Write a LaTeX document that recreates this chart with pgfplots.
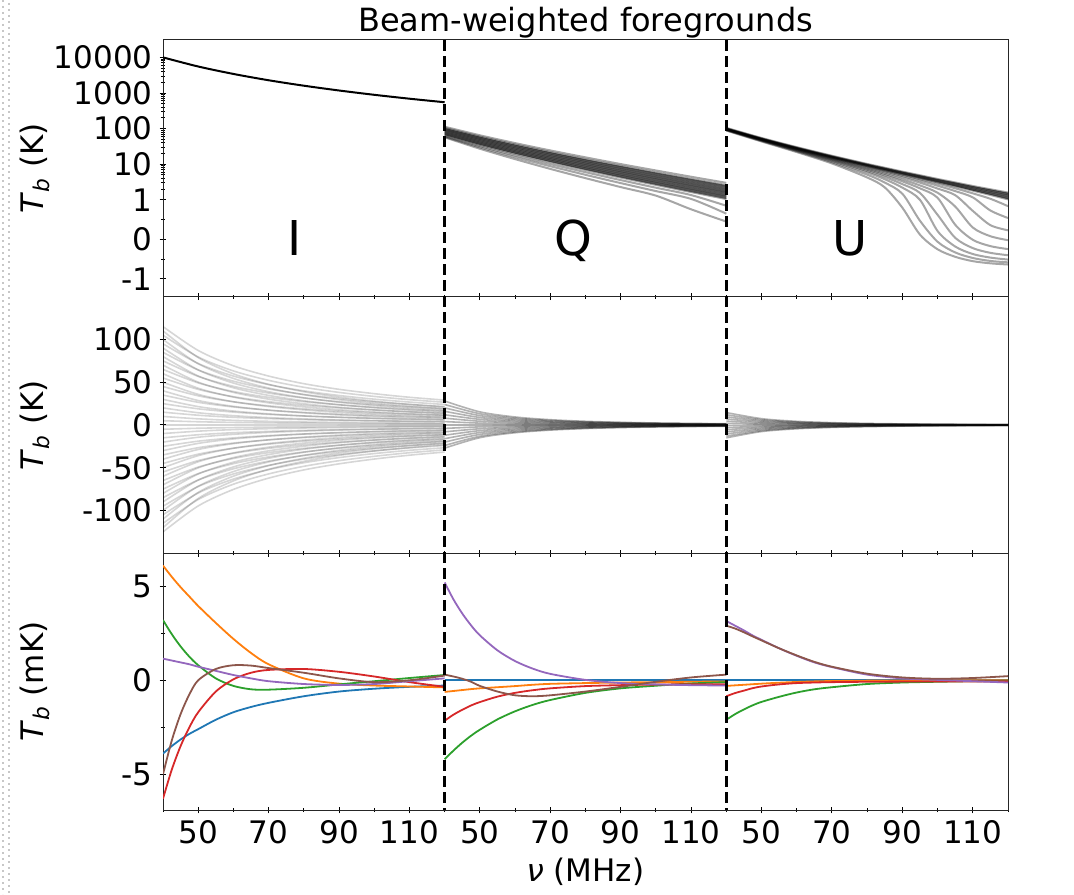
\documentclass[border=0pt]{standalone}
\usepackage{fontspec}
\setmainfont{DejaVu Sans}
\newfontfamily\bigfont{DejaVu Sans}
\usepackage{pgfplots}
\usepackage{pgfplotstable}
\pgfplotsset{compat=1.18}
\usepgfplotslibrary{fillbetween}
\usetikzlibrary{calc}

\definecolor{tabblue}{HTML}{1F77B4}
\definecolor{taborange}{HTML}{FF7F0E}
\definecolor{tabgreen}{HTML}{2CA02C}
\definecolor{tabred}{HTML}{D62728}
\definecolor{tabpurple}{HTML}{9467BD}
\definecolor{tabbrown}{HTML}{8C564B}

% ---------- top panel: I ----------
\pgfplotstableread{
nu I
40 10000
50 5550
60 3430
70 2280
80 1604
90 1176
100 890
110 692
120 550
}\tabTI
% ---------- top panel: Q ----------
\pgfplotstableread{
nu q1 q2 q3 q4 q5 q6 q7 q8 q9 q10 q11 q12
40 113 105 98 92 86 80 75 70 66 62 59 57
50 65.0 59.8 55.3 51.3 47.5 43.9 40.7 37.7 35.1 32.3 29.7 27.2
60 39.2 35.7 32.8 30.1 27.6 25.3 23.2 21.4 19.7 17.7 15.8 13.9
70 24.4 22.0 20.1 18.3 16.6 15.1 13.8 12.6 11.5 10.1 8.80 7.39
80 15.6 13.9 12.6 11.4 10.3 9.30 8.37 7.61 6.89 5.97 5.04 4.06
90 10.1 8.99 8.09 7.22 6.46 5.82 5.19 4.69 4.21 3.58 2.95 2.28
100 6.68 5.88 5.26 4.65 4.13 3.70 3.27 2.94 2.62 2.19 1.76 1.31
110 4.45 3.89 3.46 3.03 2.67 2.38 2.09 1.87 1.65 1.36 1.06 0.76
120 3.00 2.60 2.30 2.00 1.75 1.55 1.35 1.20 1.05 0.85 0.65 0.45
}\tabTQ
% ---------- top panel: U ----------
\pgfplotstableread{
nu u1 u2 u3 u4 u5 u6 u7 u8 u9 u10 u11 u12 u13 u14
40 105.0 102.0 100 98.0 96.0 98.0 97.0 96.0 95.0 94.0 93.0 92.0 90.0 88.0
50 54.7 53.1 52.0 50.9 49.8 50.6 50.0 49.3 48.5 47.8 47.0 46.2 44.9 43.5
60 30.2 29.2 28.6 27.9 27.3 27.6 27.1 26.5 25.9 25.3 24.7 24.0 23.0 21.9
70 17.3 16.7 16.3 15.8 15.4 15.5 15.0 14.5 14.0 13.5 12.9 12.2 11.4 10.5
80 10.2 9.85 9.55 9.24 8.97 8.85 8.45 8.00 7.47 7.00 6.44 5.86 5.09 4.24
85 7.97 7.64 7.38 7.11 6.88 6.71 6.33 5.89 5.37 4.91 4.37 3.79 3.05 2.23
90 6.21 5.94 5.70 5.47 5.27 5.06 4.69 4.26 3.75 3.30 2.76 2.20 1.48 0.80
95 4.90 4.66 4.45 4.24 4.06 3.82 3.46 3.04 2.54 2.10 1.56 1.00 0.47 0.12
100 3.86 3.65 3.46 3.27 3.11 2.85 2.49 2.07 1.58 1.14 0.62 0.21 -0.06 -0.25
105 3.08 2.89 2.71 2.53 2.39 2.11 1.76 1.35 0.83 0.37 0.04 -0.18 -0.33 -0.44
110 2.45 2.28 2.11 1.94 1.81 1.52 1.17 0.72 0.30 -0.01 -0.22 -0.37 -0.47 -0.55
115 1.98 1.82 1.66 1.50 1.37 1.07 0.73 0.36 0.08 -0.17 -0.34 -0.46 -0.545 -0.605
120 1.60 1.45 1.30 1.15 1.03 0.84 0.54 0.23 -0.02 -0.245 -0.40 -0.51 -0.58 -0.635
}\tabTU
% ---------- middle panel: I (two families) ----------
\pgfplotstableread{
nu m1 m2 m3 m4 m5 m6 m7 m8 m9 m10 m11 m12 m13 m14 m15 m16 m17 m18 m19 m20 m21 m22 m23 m24 m25
40 115 105 95 85 75 65 55 45 35 25 15 5 -5 -15 -25 -35 -45 -55 -65 -75 -85 -95 -105 -115 -125
50 87.1 79.5 71.9 64.3 56.8 49.2 41.6 34.1 26.5 18.9 11.4 3.8 -3.8 -11.4 -18.9 -26.5 -34.1 -41.6 -49.2 -56.8 -64.3 -71.9 -79.5 -87.1 -94.6
60 69.2 63.2 57.2 51.2 45.2 39.1 33.1 27.1 21.1 15.1 9.0 3.0 -3.0 -9.0 -15.1 -21.1 -27.1 -33.1 -39.1 -45.2 -51.2 -57.2 -63.2 -69.2 -75.3
70 57.2 52.2 47.2 42.2 37.3 32.3 27.3 22.4 17.4 12.4 7.5 2.5 -2.5 -7.5 -12.4 -17.4 -22.4 -27.3 -32.3 -37.3 -42.2 -47.2 -52.2 -57.2 -62.1
80 48.3 44.1 39.9 35.7 31.5 27.3 23.1 18.9 14.7 10.5 6.3 2.1 -2.1 -6.3 -10.5 -14.7 -18.9 -23.1 -27.3 -31.5 -35.7 -39.9 -44.1 -48.3 -52.5
90 41.7 38.1 34.5 30.9 27.2 23.6 20.0 16.3 12.7 9.1 5.4 1.8 -1.8 -5.4 -9.1 -12.7 -16.3 -20.0 -23.6 -27.2 -30.9 -34.5 -38.1 -41.7 -45.4
100 36.6 33.4 30.2 27.0 23.9 20.7 17.5 14.3 11.1 8.0 4.8 1.6 -1.6 -4.8 -8.0 -11.1 -14.3 -17.5 -20.7 -23.9 -27.0 -30.2 -33.4 -36.6 -39.8
110 32.4 29.6 26.8 24.0 21.2 18.3 15.5 12.7 9.9 7.1 4.2 1.4 -1.4 -4.2 -7.1 -9.9 -12.7 -15.5 -18.3 -21.2 -24.0 -26.8 -29.6 -32.4 -35.3
120 29.1 26.6 24.0 21.5 19.0 16.4 13.9 11.4 8.9 6.3 3.8 1.3 -1.3 -3.8 -6.3 -8.9 -11.4 -13.9 -16.4 -19.0 -21.5 -24.0 -26.6 -29.1 -31.6
}\tabMI
\pgfplotstableread{
nu n1 n2 n3 n4 n5 n6 n7 n8 n9 n10 n11 n12 n13 n14 n15 n16 n17 n18 n19 n20 n21 n22 n23 n24
40 110 100 90 80 70 60 50 40 30 20 10 0 -10 -20 -30 -40 -50 -60 -70 -80 -90 -100 -110 -120
50 78.8 71.6 64.4 57.3 50.1 43.0 35.8 28.6 21.5 14.3 7.2 0 -7.2 -14.3 -21.5 -28.6 -35.8 -43.0 -50.1 -57.3 -64.4 -71.6 -78.8 -85.9
60 59.8 54.4 49.0 43.5 38.1 32.6 27.2 21.8 16.3 10.9 5.4 0 -5.4 -10.9 -16.3 -21.8 -27.2 -32.6 -38.1 -43.5 -49.0 -54.4 -59.8 -65.3
70 47.5 43.2 38.9 34.6 30.2 25.9 21.6 17.3 13.0 8.6 4.3 0 -4.3 -8.6 -13.0 -17.3 -21.6 -25.9 -30.2 -34.6 -38.9 -43.2 -47.5 -51.8
80 38.9 35.4 31.9 28.3 24.8 21.2 17.7 14.2 10.6 7.1 3.5 0 -3.5 -7.1 -10.6 -14.2 -17.7 -21.2 -24.8 -28.3 -31.9 -35.4 -38.9 -42.5
90 32.6 29.6 26.6 23.7 20.7 17.8 14.8 11.8 8.9 5.9 3.0 0 -3.0 -5.9 -8.9 -11.8 -14.8 -17.8 -20.7 -23.7 -26.6 -29.6 -32.6 -35.5
100 27.8 25.3 22.8 20.2 17.7 15.2 12.7 10.1 7.6 5.1 2.5 0 -2.5 -5.1 -7.6 -10.1 -12.7 -15.2 -17.7 -20.2 -22.8 -25.3 -27.8 -30.4
110 24.1 21.9 19.7 17.5 15.3 13.1 11.0 8.8 6.6 4.4 2.2 0 -2.2 -4.4 -6.6 -8.8 -11.0 -13.1 -15.3 -17.5 -19.7 -21.9 -24.1 -26.3
120 21.1 19.2 17.3 15.4 13.4 11.5 9.6 7.7 5.8 3.8 1.9 0 -1.9 -3.8 -5.8 -7.7 -9.6 -11.5 -13.4 -15.4 -17.3 -19.2 -21.1 -23.0
}\tabMIb
% ---------- middle panel: Q ----------
\pgfplotstableread{
nu q1 q2 q3 q4 q5 q6 q7 q8 q9 q10 q11 q12 q13 q14 q15
40 28 24 20 16 12 8 4 0 -4 -8 -12 -16 -20 -24 -27
50 15.34 13.15 10.96 8.77 6.58 4.38 2.19 0 -2.19 -4.38 -6.58 -8.77 -10.96 -13.15 -14.80
60 9.38 8.04 6.70 5.36 4.02 2.68 1.34 0 -1.34 -2.68 -4.02 -5.36 -6.70 -8.04 -9.05
70 6.19 5.30 4.42 3.54 2.65 1.77 0.88 0 -0.88 -1.77 -2.65 -3.54 -4.42 -5.30 -5.97
80 4.31 3.70 3.08 2.46 1.85 1.23 0.62 0 -0.62 -1.23 -1.85 -2.46 -3.08 -3.70 -4.16
90 3.14 2.69 2.24 1.79 1.34 0.90 0.45 0 -0.45 -0.90 -1.34 -1.79 -2.24 -2.69 -3.02
100 2.36 2.02 1.69 1.35 1.01 0.67 0.34 0 -0.34 -0.67 -1.01 -1.35 -1.69 -2.02 -2.28
110 1.82 1.56 1.30 1.04 0.78 0.52 0.26 0 -0.26 -0.52 -0.78 -1.04 -1.30 -1.56 -1.76
120 1.44 1.24 1.03 0.82 0.62 0.41 0.21 0 -0.21 -0.41 -0.62 -0.82 -1.03 -1.24 -1.39
}\tabMQ
% ---------- middle panel: U ----------
\pgfplotstableread{
nu u1 u2 u3 u4 u5 u6 u7 u8 u9 u10 u11 u12 u13
40 14.5 12 9.5 7 4.5 2 -0.5 -3 -5.5 -8 -10.5 -13 -15
50 7.42 6.14 4.86 3.58 2.30 1.02 -0.26 -1.54 -2.82 -4.10 -5.38 -6.66 -7.68
60 4.29 3.55 2.81 2.07 1.33 0.59 -0.15 -0.89 -1.63 -2.37 -3.11 -3.85 -4.44
70 2.71 2.24 1.78 1.31 0.84 0.37 -0.09 -0.56 -1.03 -1.50 -1.96 -2.43 -2.81
80 1.81 1.50 1.19 0.88 0.56 0.25 -0.06 -0.38 -0.69 -1.00 -1.31 -1.63 -1.88
90 1.27 1.05 0.83 0.61 0.40 0.18 -0.04 -0.26 -0.48 -0.70 -0.92 -1.14 -1.32
100 0.93 0.77 0.61 0.45 0.29 0.13 -0.03 -0.19 -0.35 -0.51 -0.67 -0.83 -0.96
110 0.70 0.58 0.46 0.34 0.22 0.10 -0.02 -0.14 -0.26 -0.38 -0.50 -0.62 -0.72
120 0.54 0.44 0.35 0.26 0.17 0.07 -0.02 -0.11 -0.20 -0.30 -0.39 -0.48 -0.56
}\tabMU
% ---------- bottom panel ----------
\pgfplotstableread{
nu blue orange green red purple brown
40 -3.9 6.1 3.2 -6.3 1.15 -5.0
42.5 -3.5 5.5 2.45 -4.75 1.05 -3.2
45 -3.15 4.95 1.8 -3.5 0.95 -1.8
47.5 -2.85 4.45 1.25 -2.5 0.85 -0.75
50 -2.6 3.95 0.8 -1.7 0.72 0.0
55 -2.1 3.05 0.1 -0.6 0.5 0.6
60 -1.7 2.2 -0.3 0.05 0.28 0.8
65 -1.42 1.45 -0.48 0.4 0.1 0.78
70 -1.2 0.85 -0.5 0.55 -0.05 0.65
80 -0.85 0.1 -0.4 0.6 -0.2 0.4
90 -0.6 -0.18 -0.22 0.45 -0.25 0.1
100 -0.45 -0.28 -0.05 0.2 -0.2 -0.1
110 -0.35 -0.33 0.12 -0.1 -0.05 0.0
120 -0.28 -0.38 0.28 -0.35 0.1 0.25
}\tabBI
\pgfplotstableread{
nu blue orange green red purple brown
40 0.02 -0.62 -4.2 -2.15 5.2 0.3
42.5 0.02 -0.57 -3.74 -1.83 4.30 0.2
45 0.02 -0.52 -3.32 -1.57 3.55 0.08
47.5 0.02 -0.47 -2.95 -1.34 2.92 -0.08
50 0.02 -0.43 -2.63 -1.16 2.39 -0.3
55 0.02 -0.37 -2.08 -0.87 1.59 -0.6
60 0.02 -0.31 -1.65 -0.67 1.02 -0.8
65 0.02 -0.24 -1.31 -0.53 0.62 -0.85
70 0.02 -0.19 -1.05 -0.43 0.34 -0.8
80 0.02 -0.15 -0.67 -0.31 0.02 -0.6
90 0.02 -0.12 -0.43 -0.26 -0.15 -0.35
100 0.02 -0.10 -0.29 -0.23 -0.22 -0.08
110 0.02 -0.08 -0.17 -0.21 -0.26 0.15
120 0.02 -0.06 -0.10 -0.21 -0.28 0.3
}\tabBQ
\pgfplotstableread{
nu blue orange green red purple brown
40 0.02 -0.3 -2.1 -0.85 3.15 2.9
42.5 0.02 -0.27 -1.8 -0.68 2.9 2.75
45 0.02 -0.24 -1.55 -0.55 2.65 2.55
47.5 0.02 -0.21 -1.33 -0.42 2.38 2.33
50 0.02 -0.18 -1.15 -0.33 2.15 2.12
55 0.02 -0.13 -0.88 -0.22 1.7 1.7
60 0.02 -0.09 -0.65 -0.15 1.3 1.32
65 0.02 -0.06 -0.48 -0.12 0.95 0.98
70 0.02 -0.04 -0.37 -0.1 0.7 0.72
80 0.02 -0.02 -0.2 -0.08 0.3 0.35
90 0.02 -0.01 -0.12 -0.07 0.1 0.15
100 0.02 0 -0.08 -0.06 0.02 0.08
110 0.02 0 -0.05 -0.06 -0.05 0.12
120 0.02 0 -0.03 -0.06 -0.12 0.22
}\tabBU

\newcommand{\segplots}[2]{%
  \addplot[tabblue, line width=0.9pt, smooth] table[x expr=\thisrowno{0}+#2, y=blue] {#1};
  \addplot[taborange, line width=0.9pt, smooth] table[x expr=\thisrowno{0}+#2, y=orange] {#1};
  \addplot[tabgreen, line width=0.9pt, smooth] table[x expr=\thisrowno{0}+#2, y=green] {#1};
  \addplot[tabred, line width=0.9pt, smooth] table[x expr=\thisrowno{0}+#2, y=red] {#1};
  \addplot[tabpurple, line width=0.9pt, smooth] table[x expr=\thisrowno{0}+#2, y=purple] {#1};
  \addplot[tabbrown, line width=0.9pt, smooth] table[x expr=\thisrowno{0}+#2, y=brown] {#1};
}

\pgfplotsset{
  panel/.style={
    scale only axis, width=422.5pt, height=128.33pt,
    xmin=0, xmax=240,
    tick align=center, tick pos=left,
    xtick={10,30,...,230}, minor xtick={0,20,...,240},
    major tick length=3.4pt, minor tick length=2.1pt,
    every tick/.style={black, line width=0.5pt},
    axis line style={black!85, line width=0.5pt},
    tick label style={font=\fontsize{15.5}{17}\selectfont},
    label style={font=\fontsize{15.5}{17}\selectfont},
    ylabel style={at={(rel axis cs:-0.1515,0.5)}, anchor=center},
  },
  qline/.style={black, opacity=0.35, line width=1.0pt, smooth},
}

\begin{document}
\begin{tikzpicture}
% ================= TOP =================
\begin{axis}[panel, name=top, at={(0,0)}, anchor=north west,
  y coord trafo/.code={%
    \begingroup
    \pgfkeys{/pgf/fpu=true,/pgf/fpu/output format=fixed}%
    \pgfmathparse{abs(#1)<=1 ? 1.1111*(#1) : (((#1)<0 ? -1 : 1)*(1.1111+log10(max(abs(#1),1))))}%
    \pgfmathsmuggle\pgfmathresult
    \endgroup
  },
  ymin=-3.14, ymax=30800,
  ytick={-1,0,1,10,100,1000,10000},
  yticklabels={-1,0,1,10,100,1000,10000},
  minor ytick={-0.5,0.5,2,3,4,5,6,7,8,9,20,30,40,50,60,70,80,90,200,300,400,500,600,700,800,900,2000,3000,4000,5000,6000,7000,8000,9000},
  xticklabels={},
  ylabel={\textit{T}\textsubscript{\textit{b}} (K)},
]
\addplot[black, line width=1pt, smooth] table[x expr=\thisrowno{0}-40, y index=1] {\tabTI};
\pgfplotsinvokeforeach{1,...,12}{
  \addplot[qline, name path=tq#1] table[x expr=\thisrowno{0}+40, y index=#1] {\tabTQ};
}
\addplot[black, opacity=0.5, draw=none] fill between[of=tq2 and tq9];
\pgfplotsinvokeforeach{1,...,14}{
  \addplot[qline, name path=tu#1] table[x expr=\thisrowno{0}+120, y index=#1] {\tabTU};
}
\addplot[black, opacity=0.5, draw=none] fill between[of=tu1 and tu5];
\node[font=\bigfont\fontsize{24}{28}\selectfont, anchor=base] at (rel axis cs:0.1562,0.16) {I};
\node[font=\bigfont\fontsize{24}{28}\selectfont, anchor=base] at (rel axis cs:0.4852,0.16) {Q};
\node[font=\bigfont\fontsize{24}{28}\selectfont, anchor=base] at (rel axis cs:0.8130,0.16) {U};
\end{axis}

% ================= MIDDLE =================
\begin{axis}[panel, name=mid, at={(0,-128.33pt)}, anchor=north west,
  ymin=-150, ymax=150,
  ytick={-100,-50,0,50,100},
  yticklabels={-100,-50,0,50,100},
  xticklabels={},
  ylabel={\textit{T}\textsubscript{\textit{b}} (K)},
]
\pgfplotsinvokeforeach{1,...,25}{
  \addplot[black, opacity=0.16, line width=0.8pt, smooth] table[x expr=\thisrowno{0}-40, y index=#1] {\tabMI};
}
\pgfplotsinvokeforeach{1,...,24}{
  \addplot[black, opacity=0.16, line width=0.8pt, smooth] table[x expr=\thisrowno{0}-40, y index=#1] {\tabMIb};
}
\pgfplotsinvokeforeach{1,...,15}{
  \addplot[black, opacity=0.3, line width=0.8pt, smooth] table[x expr=\thisrowno{0}+40, y index=#1] {\tabMQ};
}
\pgfplotsinvokeforeach{1,...,13}{
  \addplot[black, opacity=0.3, line width=0.8pt, smooth] table[x expr=\thisrowno{0}+120, y index=#1] {\tabMU};
}
\end{axis}

% ================= BOTTOM =================
\begin{axis}[panel, name=bot, at={(0,-256.67pt)}, anchor=north west,
  ymin=-6.9, ymax=6.75,
  ytick={-5,0,5}, yticklabels={-5,0,5},
  minor ytick={-2.5,2.5},
  xticklabels={50,70,90,110,50,70,90,110,50,70,90,110},
  ylabel={\textit{T}\textsubscript{\textit{b}} (mK)},
  xlabel={\textit{ν} (MHz)},
  xlabel style={at={(rel axis cs:0.5,-0.24)}, anchor=center},
]
\segplots{\tabBI}{-40}
\segplots{\tabBQ}{40}
\segplots{\tabBU}{120}
\end{axis}

% title
\node[font=\fontsize{16}{18}\selectfont, anchor=base] at ($(top.north west)!0.5!(top.north east)+(0,4pt)$) {Beam-weighted foregrounds};

% dashed separators
\draw[black, line width=1.6pt, dash pattern=on 5.5pt off 2.5pt]
  ($(top.north west)!{1/3}!(top.north east)$) -- ($(bot.south west)!{1/3}!(bot.south east)$);
\draw[black, line width=1.6pt, dash pattern=on 5.5pt off 2.5pt]
  ($(top.north west)!{2/3}!(top.north east)$) -- ($(bot.south west)!{2/3}!(bot.south east)$);

% faint dotted page edge at the far left
\draw[black!22, line width=0.8pt, dash pattern=on 1pt off 2pt] (-80pt,20pt) -- (-80pt,-427pt);
\draw[black!22, line width=0.8pt, dash pattern=on 1pt off 2pt] (-77pt,18.5pt) -- (-77pt,-427pt);

\pgfresetboundingbox
\path[use as bounding box] (-81.5pt,20pt) rectangle (455.5pt,-427pt);
\end{tikzpicture}
\end{document}
